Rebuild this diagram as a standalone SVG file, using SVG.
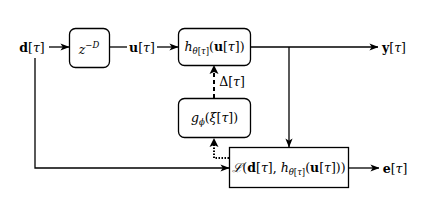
<svg xmlns="http://www.w3.org/2000/svg" width="428" height="216" viewBox="0 0 428 216">
<defs>
<marker id="arr" viewBox="0 0 10 8" refX="9.5" refY="4" markerWidth="9" markerHeight="7.2" markerUnits="userSpaceOnUse" orient="auto">
<path d="M0,0 L10,4 L0,8 L2.5,4 z" fill="#000"/>
</marker>
</defs>
<style>
.box{fill:#fff;stroke:#000;stroke-width:1.3}
.ln{fill:none;stroke:#000;stroke-width:1.3}
.dash{fill:none;stroke:#000;stroke-width:2;stroke-dasharray:4 3}
.dot{fill:none;stroke:#000;stroke-width:2;stroke-dasharray:1.5 1.5}
text{font-family:"DejaVu Serif","Liberation Serif",serif;font-size:12.5px;fill:#000}
.b{font-weight:bold}
.i{font-style:italic}
.s{font-size:8.5px}
</style>
<rect width="428" height="216" fill="#fff"/>
<g id="connectors">
<path class="ln" d="M49,47 H69" marker-end="url(#arr)"/>
<path class="ln" d="M110,47 H127"/>
<path class="ln" d="M157,47 H178" marker-end="url(#arr)"/>
<path class="ln" d="M250,47 H378" marker-end="url(#arr)"/>
<path class="ln" d="M289,47 V147" marker-end="url(#arr)"/>
<path class="ln" d="M35,58 V168 H229" marker-end="url(#arr)"/>
<path class="ln" d="M349,168 H379" marker-end="url(#arr)"/>
<path class="dash" d="M214,98 V68"/>
<path d="M214,65 L218.5,74 L214,72 L209.5,74 z" fill="#000"/>
<path class="dot" d="M229,158 H214 V145"/>
<path d="M214,138 L218.5,147 L214,145 L209.5,147 z" fill="#000"/>
</g>
<g id="d-label"><text x="32" y="51.5" text-anchor="middle"><tspan class="b">d</tspan>[<tspan class="i">τ</tspan>]</text></g>
<g id="delay">
<rect class="box" x="69.5" y="28.5" width="40" height="39" rx="6"/>
<text x="89" y="54" text-anchor="middle"><tspan class="i">z</tspan><tspan class="s" dy="-6">−</tspan><tspan class="s i">D</tspan></text>
</g>
<g id="u-label"><text x="142" y="51.5" text-anchor="middle"><tspan class="b">u</tspan>[<tspan class="i">τ</tspan>]</text></g>
<g id="model">
<rect class="box" x="178.5" y="28.5" width="72" height="37" rx="6"/>
<text x="214.5" y="51" text-anchor="middle"><tspan class="i">h</tspan><tspan class="s" dy="3"><tspan class="i">θ</tspan>[<tspan class="i">τ</tspan>]</tspan><tspan dy="-3">(</tspan><tspan class="b">u</tspan>[<tspan class="i">τ</tspan>])</text>
</g>
<g id="y-label"><text x="394" y="51.5" text-anchor="middle"><tspan class="b">y</tspan>[<tspan class="i">τ</tspan>]</text></g>
<g id="delta-label"><text x="232" y="86" text-anchor="middle">Δ[<tspan class="i">τ</tspan>]</text></g>
<g id="meta">
<rect class="box" x="178.5" y="98.5" width="72" height="39" rx="6"/>
<text x="214.5" y="122" text-anchor="middle"><tspan class="i">g</tspan><tspan class="s i" dy="3">ϕ</tspan><tspan dy="-3">(</tspan><tspan class="i">ξ</tspan>[<tspan class="i">τ</tspan>])</text>
</g>
<g id="loss">
<rect class="box" x="229.5" y="147.5" width="119" height="40"/>
<text x="289" y="172" text-anchor="middle"><tspan class="i">ℒ</tspan>(<tspan class="b">d</tspan>[<tspan class="i">τ</tspan>], <tspan class="i">h</tspan><tspan class="s" dy="3"><tspan class="i">θ</tspan>[<tspan class="i">τ</tspan>]</tspan><tspan dy="-3">(</tspan><tspan class="b">u</tspan>[<tspan class="i">τ</tspan>]))</text>
</g>
<g id="e-label"><text x="395" y="172.5" text-anchor="middle"><tspan class="b">e</tspan>[<tspan class="i">τ</tspan>]</text></g>
</svg>
